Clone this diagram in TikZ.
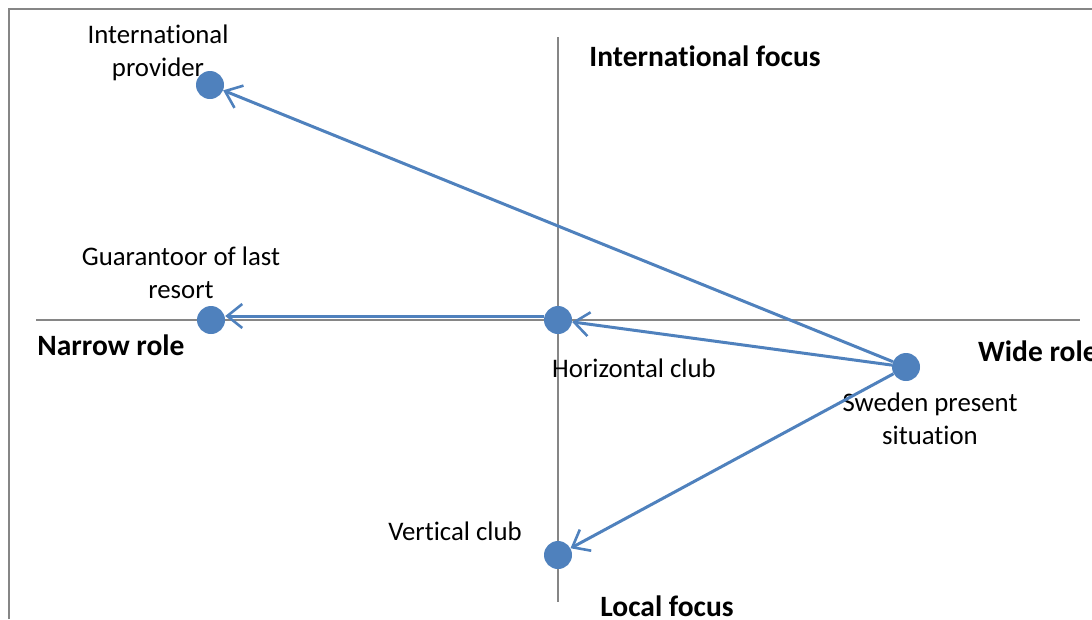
\documentclass[tikz,border=0pt]{standalone}
\usepackage{fontspec}
\setmainfont{Carlito}[Ligatures=NoCommon]
\usepackage{xcolor}
\usetikzlibrary{arrows.meta,positioning}
\definecolor{dotblue}{HTML}{4F81BD}
\definecolor{axisgray}{HTML}{868686}

\begin{document}
\begin{tikzpicture}[x=1pt, y=-1pt,
    dot/.style={circle, fill=dotblue, inner sep=0pt, minimum size=28pt},
    lbl/.style={inner sep=0pt, align=center, font=\fontsize{26.8}{33}\selectfont},
    axislbl/.style={lbl, font=\fontsize{29.5}{33}\selectfont\bfseries},
    move/.style={draw=dotblue, line width=3pt, -{Straight Barb[length=15pt, width=24pt, line width=2.6pt]}}]
        \useasboundingbox (0,0) rectangle (1092,619);
        \clip (0,0) rectangle (1092,619);

        % Frame
        \draw[axisgray, line width=2pt] (9,619) -- (9,9) -- (1092,9);

        % Axes
        \draw[axisgray, line width=2pt] (36,320) -- (1080,320);
        \draw[axisgray, line width=2pt] (558,37) -- (558,602);

        \node[axislbl, anchor=base] (intfocus) at (705,66) {International focus};
        \node[axislbl, anchor=base] (locfocus) at (667,616) {Local focus};
        \node[axislbl, anchor=base] (narrow) at (111,355) {Narrow role};
        \node[axislbl, anchor=base west] (wide) at (978,361) {Wide role};

        % Positions
        \node[dot] (intprov) at (210,85) {};
        \node[dot] (guar) at (211,320) {};
        \node[dot] (horiz) at (558,320) {};
        \node[dot] (sweden) at (906,367) {};
        \node[dot] (vert) at (558,555) {};

        \node[lbl] (intprovlbl) at (158,53) {International\\provider};
        \node[lbl] (guarlbl) at (181,273) {Guarantoor of last\\resort};
        \node[lbl, anchor=base] (horizlbl) at (634,377) {Horizontal club};
        \node[lbl] (swedenlbl) at (930,419) {Sweden present\\situation};
        \node[lbl, anchor=base] (vertlbl) at (455,540) {Vertical club};

        % Moves
        \draw[move] (sweden) -- (intprov);
        \draw[move] (sweden) -- (horiz);
        \draw[move] (sweden) -- (vert);
        \draw[move] ([yshift=4pt]horiz.west) -- ([yshift=4pt]guar.east);
    \end{tikzpicture}
\end{document}
